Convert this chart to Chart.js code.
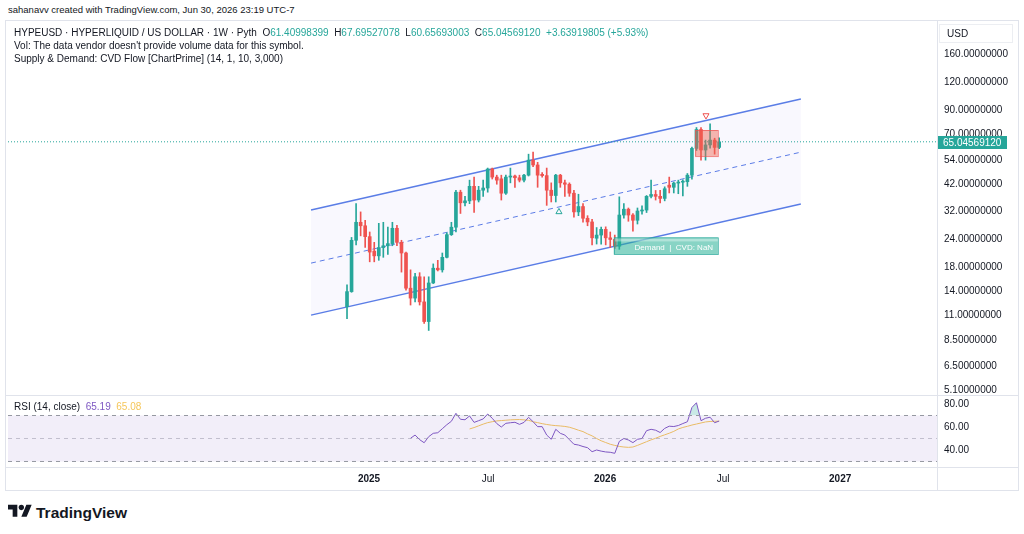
<!DOCTYPE html>
<html>
<head>
<meta charset="utf-8">
<script src="https://cdn.jsdelivr.net/npm/chart.js@4.4.1/dist/chart.umd.min.js"></script>
<style>
  body { margin: 0; width: 1024px; height: 534px; background: #fff; position: relative; overflow: hidden;
         font-family: "Liberation Sans", Arial, sans-serif; color: #131722; }
  .abs { position: absolute; white-space: nowrap; }
  .line { position: absolute; background: #e0e3eb; }
  #header { left: 8px; top: 4px; font-size: 9.5px; line-height: 12px; }
  #frame { left: 5px; top: 20px; width: 1014px; height: 471px; border: 1px solid #e0e3eb; box-sizing: border-box; }
  .legend { left: 14px; font-size: 10px; line-height: 12px; z-index: 3; }
  .up { color: #26a69a; }
  #usd { left: 939px; top: 24px; width: 74px; height: 19px; border: 1px solid #eceef2; box-sizing: border-box;
         font-size: 10px; line-height: 17px; padding-left: 7px; z-index: 3; }
  canvas { position: absolute; left: 0; }
  #logo { left: 8px; top: 502px; font-size: 15.5px; font-weight: bold; line-height: 18px; }
  #logo svg { vertical-align: -3px; margin-right: 4px; }
</style>
</head>
<body>
<div id="header" class="abs">sahanavv created with TradingView.com, Jun 30, 2026 23:19 UTC-7</div>
<div id="frame" class="abs"></div>

<canvas id="main" width="1024" height="375" style="top:20px"></canvas>
<canvas id="rsi" width="1024" height="96" style="top:395px"></canvas>

<div class="line" style="left:5px; top:395px; width:1014px; height:1px"></div>
<div class="line" style="left:5px; top:467px; width:1014px; height:1px"></div>
<div class="line" style="left:937px; top:20px; width:1px; height:471px"></div>

<div class="abs legend" style="top:27px">HYPEUSD · HYPERLIQUID / US DOLLAR · 1W · Pyth&nbsp; O<span class="up">61.40998399</span>&nbsp; H<span class="up">67.69527078</span>&nbsp; L<span class="up">60.65693003</span>&nbsp; C<span class="up">65.04569120</span>&nbsp; <span class="up">+3.63919805 (+5.93%)</span></div>
<div class="abs legend" style="top:40px">Vol: The data vendor doesn't provide volume data for this symbol.</div>
<div class="abs legend" style="top:53px">Supply &amp; Demand: CVD Flow [ChartPrime] (14, 1, 10, 3,000)</div>
<div class="abs legend" style="top:401px">RSI (14, close)&nbsp; <span style="color:#7e57c2">65.19</span>&nbsp; <span style="color:#f5c65a">65.08</span></div>
<div id="usd" class="abs">USD</div>

<div id="logo" class="abs"><svg width="24" height="19" viewBox="0 0 36 28"><path d="M14 22H7V11H0V4h14v18zM28 22h-8l7.5-18h8L28 22z" fill="#131722"/><circle cx="20" cy="8" r="4" fill="#131722"/></svg>TradingView</div>

<script>
// weekly candles, index 0 = week of 25 Nov 2024
const opens  = [12.0, 14.0, 23.7, 28.5, 27.5, 24.6, 21.2, 20.2, 22.0, 22.4, 22.9, 26.8, 23.2, 20.8, 14.5, 13.1, 16.3, 12.6, 10.3, 15.3,
                17.8, 17.5, 19.9, 25.1, 27.1, 38.8, 34.8, 35.5, 41.2, 35.8, 39.6, 40.5, 49.2, 45.3, 44.5, 38.4, 45.3, 45.8, 45.0, 43.9,
                46.2, 53.9, 51.3, 46.6, 46.0, 39.6, 37.5, 46.2, 42.7, 42.1, 38.4, 31.7, 33.5, 29.7, 28.6, 24.2, 25.0, 26.5, 24.3, 23.9,
                22.3, 30.7, 32.6, 30.7, 29.1, 32.0, 32.3, 37.2, 37.9, 37.2, 36.4, 41.7, 40.8, 42.6, 43.0, 43.2, 46.2, 60.8, 73.8, 59.8,
                63.0, 66.2, 61.41];
const highs  = [15.0, 24.4, 34.5, 31.7, 29.1, 25.8, 23.2, 28.2, 28.5, 27.1, 28.5, 27.6, 23.7, 21.0, 17.5, 16.9, 17.0, 16.3, 16.3, 18.6,
                19.3, 20.8, 25.6, 28.5, 39.6, 39.6, 37.2, 43.9, 45.3, 41.2, 43.9, 49.7, 49.7, 46.2, 46.2, 46.2, 49.7, 46.2, 46.2, 46.6,
                57.3, 58.5, 52.7, 47.5, 49.7, 42.7, 46.6, 46.6, 43.9, 42.7, 39.6, 38.0, 34.5, 30.5, 29.4, 27.0, 27.1, 27.2, 25.8, 25.0,
                37.0, 34.5, 33.0, 31.2, 33.0, 33.7, 37.5, 43.9, 39.5, 39.6, 41.0, 45.3, 43.0, 43.9, 44.0, 47.0, 61.6, 75.3, 75.3, 66.2,
                78.3, 67.5, 67.70];
const lows   = [10.6, 13.9, 22.6, 24.8, 22.0, 19.0, 19.0, 19.3, 19.9, 20.5, 22.4, 22.4, 17.1, 14.2, 12.2, 12.6, 12.2, 10.1, 9.4, 15.2,
                17.3, 17.1, 19.8, 24.9, 25.8, 31.2, 33.7, 34.5, 31.5, 35.1, 37.2, 38.8, 44.4, 42.1, 35.8, 37.9, 42.7, 40.8, 43.1, 43.1,
                45.8, 50.4, 40.8, 45.3, 33.9, 35.1, 35.1, 40.8, 37.2, 37.2, 30.0, 30.5, 28.5, 27.5, 22.6, 22.8, 22.8, 22.6, 22.0, 21.8,
                21.6, 29.7, 28.8, 26.0, 28.0, 31.0, 31.5, 36.6, 35.8, 34.8, 35.5, 38.5, 38.5, 38.2, 37.3, 41.2, 44.4, 59.5, 53.9, 53.9,
                61.0, 57.3, 60.66];
const closes = [14.0, 23.7, 28.5, 27.5, 24.6, 21.0, 20.2, 22.0, 22.4, 22.9, 26.8, 23.2, 20.8, 14.5, 13.1, 16.3, 12.6, 10.3, 15.3, 17.8,
                17.5, 19.9, 25.1, 27.1, 38.8, 34.8, 35.5, 41.2, 35.8, 39.6, 40.5, 49.2, 45.3, 43.9, 38.4, 45.3, 45.8, 45.0, 43.9, 46.2,
                53.9, 51.3, 46.2, 46.0, 39.6, 37.5, 46.2, 42.7, 42.1, 38.4, 31.7, 33.5, 29.7, 28.6, 24.3, 25.0, 26.5, 24.3, 23.9, 22.3,
                30.7, 32.6, 30.7, 29.1, 32.0, 32.3, 37.2, 37.9, 37.2, 36.4, 40.2, 40.8, 42.6, 43.0, 43.2, 46.2, 60.8, 73.8, 59.8, 63.0,
                66.2, 61.41, 65.05];
const lastPrice = 65.0456912;

// RSI(14) from candle 14, its moving average from candle 27
const rsiStart = 14;
const rsiValues = [50.2, 53.0, 49.0, 46.3, 51.6, 54.5, 55.0, 58.5, 62.0, 65.0, 71.9, 66.7, 66.3, 69.6, 64.0, 65.5, 67.0, 71.3, 67.6, 63.0,
                   60.0, 63.2, 63.7, 64.1, 62.3, 64.0, 68.4, 64.6, 60.3, 60.3, 53.0, 49.3, 58.0, 54.5, 53.0, 49.0, 45.0, 44.3, 43.0, 42.0,
                   38.5, 40.0, 39.0, 38.3, 38.0, 37.1, 47.5, 50.0, 48.7, 46.4, 49.3, 50.0, 56.8, 58.0, 57.2, 55.2, 58.8, 60.7, 60.4, 61.3,
                   63.0, 64.6, 77.0, 81.1, 65.5, 67.6, 68.5, 63.7, 65.19];
const maStart = 27;
const rsiMa = [58.3, 59.5, 61.0, 62.5, 63.8, 64.6, 65.3, 65.6, 65.9, 66.2, 66.4, 66.5, 66.2, 65.8, 64.6, 63.8, 62.9, 62.2, 61.6, 61.2,
               60.9, 60.5, 59.8, 58.6, 57.2, 56.0, 54.0, 52.3, 50.0, 48.0, 46.5, 45.0, 44.0, 43.1, 42.6, 42.3, 42.6, 44.0, 45.6, 47.2,
               48.8, 50.2, 51.8, 53.2, 54.6, 56.2, 58.3, 59.6, 60.6, 61.7, 62.6, 63.5, 64.4, 64.8, 65.0, 65.08];

// parallel channel (x in candle index units)
const channelX = [-7.93, 100.0];
const channelUpper = [32.3, 100.8];
const channelMid = [18.75, 58.5];
const channelLower = [11.0, 34.4];

// supply / demand zones: [x from, x to, low, high]
const demandZone = [58.8, 81.7, 20.6, 24.4];
const supplyZone = [76.7, 81.7, 56.2, 73.4];
const upMarks = [[46.7, 31.7]];
const downMarks = [[79.1, 85.2]];

const priceTicks = [160, 120, 90, 70, 54, 42, 32, 24, 18, 14, 11, 8.5, 6.5, 5.1];
const rsiTicks = [40, 60, 80];
const timeTickPos = [4.85, 31.08, 56.87, 82.87, 108.66];
const timeTickLabels = ['2025', 'Jul', '2026', 'Jul', '2027'];

const X_MIN = -74.7, X_MAX = 130;
const GREEN = '#26a69a', RED = '#ef5350', BLUE = '#5a7de6';
const FONT = '"Liberation Sans", Arial, sans-serif';
Chart.defaults.font.family = FONT;
Chart.defaults.color = '#131722';

const idx = opens.map((_, i) => i);
const candleColors = idx.map(i => closes[i] >= opens[i] ? GREEN : RED);

function toPoints(xs, ys) {
    return xs.map((x, k) => ({ x: x, y: ys[k] }));
}

// zones, price label
const overlayPlugin = {
    id: 'overlay',
    afterDatasetsDraw(chart) {
        const { ctx, scales: { x, y } } = chart;
        ctx.save();
        // demand
        let x0 = x.getPixelForValue(demandZone[0]), x1 = x.getPixelForValue(demandZone[1]);
        let y0 = y.getPixelForValue(demandZone[3]), y1 = y.getPixelForValue(demandZone[2]);
        ctx.fillStyle = 'rgba(38,176,150,0.55)';
        ctx.fillRect(x0, y0, x1 - x0, y1 - y0);
        ctx.strokeStyle = 'rgba(38,166,154,0.8)';
        ctx.lineWidth = 1;
        ctx.strokeRect(x0 + 0.5, y0 + 0.5, x1 - x0, y1 - y0);
        ctx.fillStyle = 'rgba(255,255,255,0.35)';
        ctx.fillRect(x0 + 1, y0 + 1, x1 - x0 - 1, 3);
        ctx.fillStyle = '#ffffff';
        ctx.font = '8px ' + FONT;
        ctx.textAlign = 'center';
        ctx.textBaseline = 'middle';
        ctx.fillText('Demand  |  CVD: NaN', (x0 + x1) / 2 + 8, (y0 + y1) / 2 + 2);
        // supply
        x0 = x.getPixelForValue(supplyZone[0]); x1 = x.getPixelForValue(supplyZone[1]);
        y0 = y.getPixelForValue(supplyZone[3]); y1 = y.getPixelForValue(supplyZone[2]);
        ctx.fillStyle = 'rgba(239,100,80,0.45)';
        ctx.fillRect(x0, y0, x1 - x0, y1 - y0);
        ctx.strokeStyle = 'rgba(239,83,80,0.7)';
        ctx.strokeRect(x0 + 0.5, y0 + 0.5, x1 - x0, y1 - y0);
        ctx.restore();
    },
    afterDraw(chart) {
        const { ctx, chartArea, scales: { y } } = chart;
        const py = Math.round(y.getPixelForValue(lastPrice));
        ctx.save();
        ctx.fillStyle = GREEN;
        ctx.fillRect(chartArea.right, py - 6, 70, 13);
        ctx.fillStyle = '#ffffff';
        ctx.font = '10px ' + FONT;
        ctx.textBaseline = 'middle';
        ctx.fillText(lastPrice.toFixed(8), chartArea.right + 6, py + 1);
        ctx.restore();
    }
};

new Chart(document.getElementById('main'), {
    type: 'line',
    data: {
        datasets: [
            { data: toPoints(channelX, channelUpper), borderColor: BLUE, borderWidth: 1.5, pointRadius: 0, order: 6 },
            { data: toPoints(channelX, channelLower), borderColor: BLUE, borderWidth: 1.5, pointRadius: 0, order: 6,
              fill: { target: 0 }, backgroundColor: 'rgba(126,100,230,0.045)' },
            { data: toPoints(channelX, channelMid), borderColor: BLUE, borderWidth: 1, borderDash: [5, 4], pointRadius: 0, order: 6 },
            { data: toPoints([X_MIN, X_MAX], [lastPrice, lastPrice]), borderColor: GREEN, borderWidth: 1,
              borderDash: [1, 2], pointRadius: 0, order: 5 },
            { type: 'bar', data: idx.map(i => ({ x: i, y: [lows[i], highs[i]] })), backgroundColor: candleColors,
              barThickness: 1, grouped: false, order: 3 },
            { type: 'bar', data: idx.map(i => ({ x: i, y: [opens[i], closes[i]] })), backgroundColor: candleColors,
              barThickness: 3, grouped: false, minBarLength: 1, order: 2 },
            { data: upMarks.map(m => ({ x: m[0], y: m[1] })), showLine: false, pointStyle: 'triangle', pointRadius: 3.5,
              pointBorderColor: GREEN, pointBackgroundColor: 'rgba(255,255,255,0)', pointBorderWidth: 1, order: 1 },
            { data: downMarks.map(m => ({ x: m[0], y: m[1] })), showLine: false, pointStyle: 'triangle', pointRotation: 180,
              pointRadius: 3.5, pointBorderColor: RED, pointBackgroundColor: 'rgba(255,255,255,0)', pointBorderWidth: 1, order: 1 }
        ]
    },
    options: {
        responsive: false,
        animation: false,
        layout: { autoPadding: false, padding: { left: 8, right: 0, top: 0, bottom: 0 } },
        plugins: { legend: { display: false }, tooltip: { enabled: false } },
        scales: {
            x: { type: 'linear', min: X_MIN, max: X_MAX, display: false, offset: false },
            y: {
                type: 'logarithmic', position: 'right', min: 4.85, max: 226.8, bounds: 'data',
                grid: { display: false, drawTicks: false },
                border: { display: false },
                afterBuildTicks: s => { s.ticks = priceTicks.map(v => ({ value: v })); },
                afterFit: s => { s.width = 87; s.paddingTop = 0; s.paddingBottom = 0; },
                ticks: { autoSkip: false, padding: 7, font: { size: 10 }, color: '#131722',
                         callback: v => Number(v).toFixed(8) }
            }
        }
    },
    plugins: [overlayPlugin]
});

new Chart(document.getElementById('rsi'), {
    type: 'line',
    data: {
        datasets: [
            { data: toPoints([X_MIN, X_MAX], [70, 70]), borderColor: '#9598a1', borderWidth: 1, borderDash: [4, 4], pointRadius: 0 },
            { data: toPoints([X_MIN, X_MAX], [30, 30]), borderColor: '#9598a1', borderWidth: 1, borderDash: [4, 4], pointRadius: 0,
              fill: '-1', backgroundColor: 'rgba(126,87,194,0.1)' },
            { data: toPoints([X_MIN, X_MAX], [50, 50]), borderColor: 'rgba(149,152,161,0.5)', borderWidth: 1, borderDash: [4, 4], pointRadius: 0 },
            { data: rsiValues.map((v, k) => ({ x: rsiStart + k, y: v })), borderColor: '#7e57c2', borderWidth: 1, pointRadius: 0,
              fill: { target: { value: 70 }, above: 'rgba(38,166,154,0.25)', below: 'rgba(0,0,0,0)' } },
            { data: rsiMa.map((v, k) => ({ x: maStart + k, y: v })), borderColor: '#f5c65a', borderWidth: 1, pointRadius: 0 }
        ]
    },
    options: {
        responsive: false,
        animation: false,
        layout: { autoPadding: false, padding: { left: 8, right: 0, top: 2, bottom: 0 } },
        plugins: { legend: { display: false }, tooltip: { enabled: false } },
        scales: {
            x: {
                type: 'linear', min: X_MIN, max: X_MAX, offset: false,
                grid: { display: false, drawTicks: false },
                border: { display: false },
                afterBuildTicks: s => { s.ticks = timeTickPos.map(v => ({ value: v })); },
                afterFit: s => { s.height = 24; s.paddingLeft = 0; s.paddingRight = 0; },
                ticks: {
                    autoSkip: false, maxRotation: 0, padding: 6, color: '#131722',
                    callback: (v, k) => timeTickLabels[k],
                    font: c => ({ size: 10, weight: timeTickLabels[c.index] === 'Jul' ? 'normal' : 'bold' })
                }
            },
            y: {
                position: 'right', min: 25.2, max: 86.1,
                grid: { display: false, drawTicks: false },
                border: { display: false },
                afterBuildTicks: s => { s.ticks = rsiTicks.map(v => ({ value: v })); },
                afterFit: s => { s.width = 87; s.paddingTop = 0; s.paddingBottom = 0; },
                ticks: { autoSkip: false, padding: 7, font: { size: 10 }, color: '#131722',
                         callback: v => Number(v).toFixed(2) }
            }
        }
    }
});
</script>
</body>
</html>
